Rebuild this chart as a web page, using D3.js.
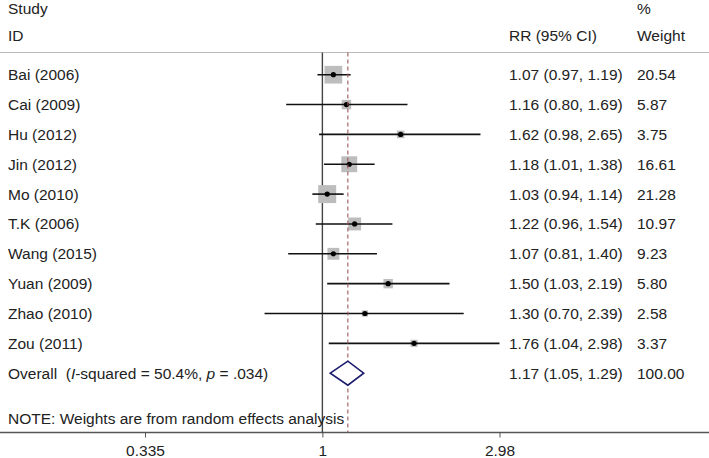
<!DOCTYPE html>
<html><head><meta charset="utf-8">
<script src="https://cdn.jsdelivr.net/npm/d3@7"></script>
<style>body{margin:0;background:#fff}svg{display:block}text{font-family:"Liberation Sans",Arial,sans-serif;fill:#222;white-space:pre}</style>
</head><body><svg id="c" width="709" height="458"></svg>
<script>
const studies = ["Bai (2006)","Cai (2009)","Hu (2012)","Jin (2012)","Mo (2010)","T.K (2006)","Wang (2015)","Yuan (2009)","Zhao (2010)","Zou (2011)"];
const rr    = [1.07,1.16,1.62,1.18,1.03,1.22,1.07,1.50,1.30,1.76];
const lower = [0.97,0.80,0.98,1.01,0.94,0.96,0.81,1.03,0.70,1.04];
const upper = [1.19,1.69,2.65,1.38,1.14,1.54,1.40,2.19,2.39,2.98];
const weights = [20.54,5.87,3.75,16.61,21.28,10.97,9.23,5.80,2.58,3.37];
const overall = {label:"Overall", rr:1.17, lower:1.05, upper:1.29, weight:100.00, i2:"50.4%", p:".034"};
const tickValues = [0.335, 1, 2.98];
const tickLabels = ["0.335","1","2.98"];
const note = "NOTE: Weights are from random effects analysis";

const svg = d3.select("#c");
const W = 709;
const x = d3.scaleLog().domain([0.335, 2.98]).range([145, 499.5]);
const rowStep = 29.85, row0 = 74.7;
const y = i => row0 + i*rowStep;
const yAxis = 432.5, yTop = 52.5;
const fs = 15.5, dy = 5.5;
const colRR = 509, colW = 637, colL = 8;
const boxSide = d3.scaleSqrt().domain([0, 1]).range([0, 3.9]);

// header
svg.append("text").attr("x",colL).attr("y",14).attr("font-size",fs).text("Study");
svg.append("text").attr("x",colL).attr("y",41).attr("font-size",fs).text("ID");
svg.append("text").attr("x",colRR).attr("y",41).attr("font-size",fs).text("RR (95% CI)");
svg.append("text").attr("x",colW).attr("y",14).attr("font-size",fs).text("%");
svg.append("text").attr("x",colW).attr("y",41).attr("font-size",fs).text("Weight");
svg.append("line").attr("x1",0).attr("x2",W).attr("y1",yTop).attr("y2",yTop).attr("stroke","#bbb").attr("stroke-width",1.2);

// axis
svg.append("line").attr("x1",0).attr("x2",W).attr("y1",yAxis).attr("y2",yAxis).attr("stroke","#555").attr("stroke-width",1.3);
const axis = d3.axisBottom(x).tickValues(tickValues).tickFormat((d,i)=>tickLabels[i]).tickSize(5).tickPadding(7);
const ag = svg.append("g").attr("transform",`translate(0,${yAxis})`).call(axis);
ag.select(".domain").remove();
ag.selectAll(".tick line").attr("stroke","#555");
ag.selectAll(".tick text").attr("font-size",fs).attr("font-family","Liberation Sans, Arial, sans-serif").attr("fill","#222");

// null line
svg.append("line").attr("x1",x(1)).attr("x2",x(1)).attr("y1",yTop).attr("y2",yAxis).attr("stroke","#444").attr("stroke-width",1.4);

// boxes
const rows = studies.map((s,i)=>({s, rr:rr[i], lo:lower[i], hi:upper[i], w:weights[i], i}));
svg.selectAll("rect.box").data(rows).join("rect").attr("class","box")
  .attr("x",d=>x(d.rr)-boxSide(d.w)/2).attr("y",d=>y(d.i)-boxSide(d.w)/2)
  .attr("width",d=>boxSide(d.w)).attr("height",d=>boxSide(d.w)).attr("fill","#bdbdbd");
svg.selectAll("line.ci").data(rows).join("line").attr("class","ci")
  .attr("x1",d=>x(d.lo)).attr("x2",d=>x(d.hi)).attr("y1",d=>y(d.i)).attr("y2",d=>y(d.i))
  .attr("stroke","#111").attr("stroke-width",1.6);
svg.selectAll("circle.pt").data(rows).join("circle").attr("class","pt")
  .attr("cx",d=>x(d.rr)).attr("cy",d=>y(d.i)).attr("r",2.6).attr("fill","#000");

// overall dashed line
svg.append("line").attr("x1",x(overall.rr)).attr("x2",x(overall.rr)).attr("y1",yTop).attr("y2",yAxis)
  .attr("stroke","#9b5a5a").attr("stroke-width",1.1).attr("stroke-dasharray","4,3");

// diamond
const yo = y(studies.length);
svg.append("path").attr("d",`M${x(overall.lower)},${yo} L${x(overall.rr)},${yo-12} L${x(overall.upper)},${yo} L${x(overall.rr)},${yo+12} Z`)
  .attr("fill","#fff").attr("stroke","#1a1a6e").attr("stroke-width",1.6);

// text columns
const f2 = d3.format(".2f");
svg.selectAll("text.st").data(rows).join("text").attr("class","st").attr("x",colL).attr("y",d=>y(d.i)+dy).attr("font-size",fs).text(d=>d.s);
svg.selectAll("text.rr").data(rows).join("text").attr("class","rr").attr("x",colRR).attr("y",d=>y(d.i)+dy).attr("font-size",fs)
  .text(d=>`${f2(d.rr)} (${f2(d.lo)}, ${f2(d.hi)})`);
svg.selectAll("text.wt").data(rows).join("text").attr("class","wt").attr("x",colW).attr("y",d=>y(d.i)+dy).attr("font-size",fs).text(d=>f2(d.w));

const ot = svg.append("text").attr("x",colL).attr("y",yo+dy).attr("font-size",fs);
ot.append("tspan").text(overall.label+"  (");
ot.append("tspan").attr("font-style","italic").text("I");
ot.append("tspan").text(`-squared = ${overall.i2}, `);
ot.append("tspan").attr("font-style","italic").text("p");
ot.append("tspan").text(` = ${overall.p})`);
svg.append("text").attr("x",colRR).attr("y",yo+dy).attr("font-size",fs).text(`${f2(overall.rr)} (${f2(overall.lower)}, ${f2(overall.upper)})`);
svg.append("text").attr("x",colW).attr("y",yo+dy).attr("font-size",fs).text(f2(overall.weight));

svg.append("text").attr("x",colL).attr("y",423.5).attr("font-size",fs).text(note);
</script></body></html>
